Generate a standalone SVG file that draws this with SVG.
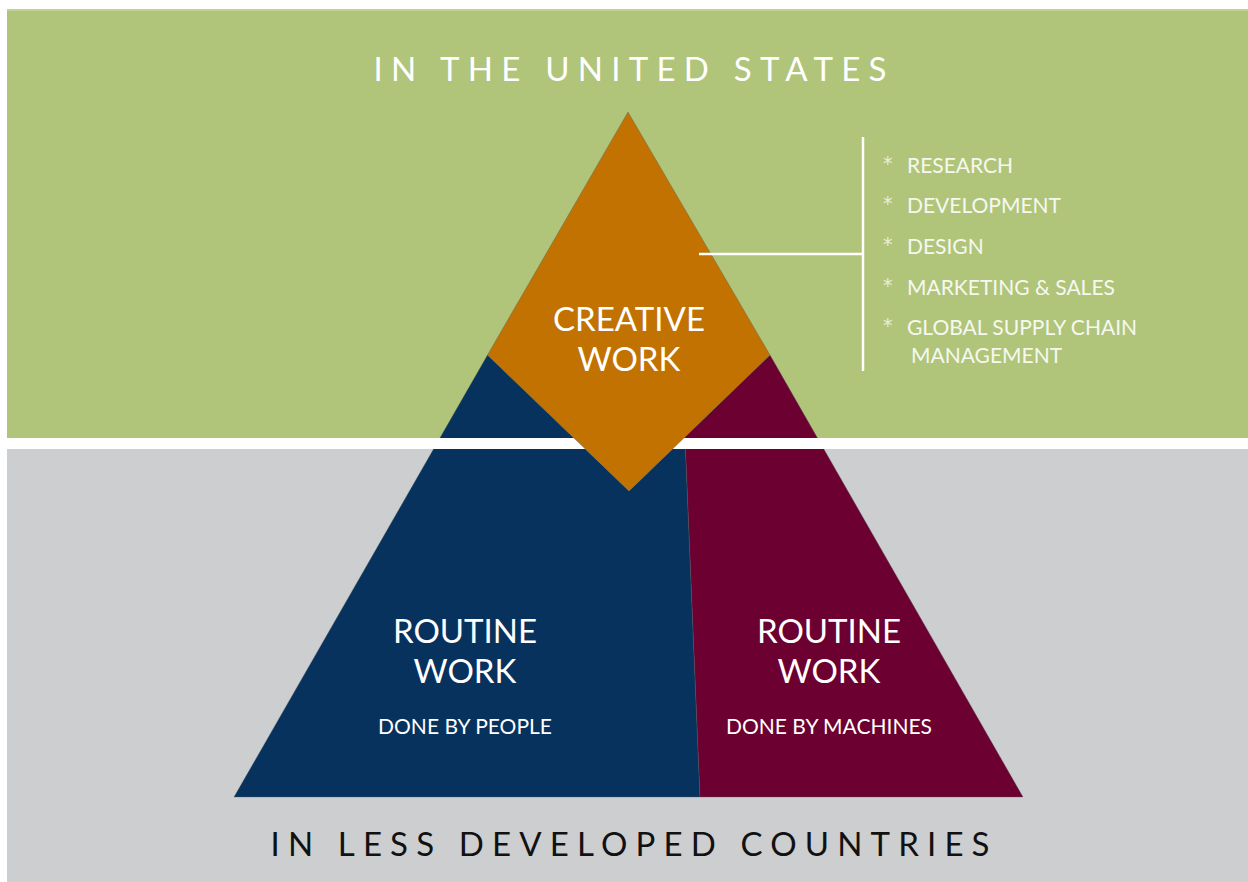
<svg xmlns="http://www.w3.org/2000/svg" width="1248" height="882" viewBox="0 0 1248 882">
<style>
.t{font-family:Lato,"Open Sans","Liberation Sans",sans-serif;fill:#ffffff}
.big{font-size:33px;text-anchor:middle}
.small{font-size:21px;text-anchor:middle}
.item{font-size:21px;fill:#f6f8f0}
.ast{font-family:"DejaVu Sans","Liberation Sans",sans-serif;font-size:19px;fill:#e8eedb}
.title{font-size:33px;text-anchor:middle}
.conn{stroke:#ffffff;stroke-width:2.5;fill:none}
.edge{stroke:#4f5f66;stroke-width:0.6;stroke-opacity:0.6}
</style>
<rect width="1248" height="882" fill="#ffffff"/>
<g id="bands">
<rect x="7" y="9" width="1241" height="429" fill="#b0c57a"/>
<rect x="7" y="9" width="1241" height="2" fill="#c0d38e"/>
<rect x="7" y="449" width="1241" height="433" fill="#cdcecf"/>
</g>
<g id="routine-people">
<polygon class="edge" points="487.5,355 629,491 685,437 700,797 234,797" fill="#06325d"/>
</g>
<g id="routine-machines">
<polygon class="edge" points="685,437 770,355 1023,797 700,797" fill="#6c0031"/>
</g>
<g id="band-separator">
<rect x="7" y="438" width="1241" height="11" fill="#ffffff"/>
</g>
<g id="creative-work">
<polygon class="edge" points="628,112 770,355 629,491 487.5,355" fill="#c17200"/>
<text class="t big" x="629" y="331">CREATIVE</text>
<text class="t big" x="629" y="371">WORK</text>
</g>
<g id="routine-people-label">
<text class="t big" x="465" y="643">ROUTINE</text>
<text class="t big" x="465" y="683">WORK</text>
<text class="t small" x="465" y="734">DONE BY PEOPLE</text>
</g>
<g id="routine-machines-label">
<text class="t big" x="829" y="643">ROUTINE</text>
<text class="t big" x="829" y="683">WORK</text>
<text class="t small" x="829" y="734">DONE BY MACHINES</text>
</g>
<g id="connectors">
<line class="conn" x1="699" y1="254" x2="864" y2="254"/>
<line class="conn" x1="863" y1="137" x2="863" y2="371"/>
</g>
<g id="creative-list">
<text class="t ast" x="883" y="170">*</text>
<text class="t item" x="907" y="173">RESEARCH</text>
<text class="t ast" x="883" y="210">*</text>
<text class="t item" x="907" y="213">DEVELOPMENT</text>
<text class="t ast" x="883" y="251">*</text>
<text class="t item" x="907" y="254">DESIGN</text>
<text class="t ast" x="883" y="292">*</text>
<text class="t item" x="907" y="295">MARKETING &amp; SALES</text>
<text class="t ast" x="883" y="332">*</text>
<text class="t item" x="907" y="335">GLOBAL SUPPLY CHAIN</text>
<text class="t item" x="911" y="363">MANAGEMENT</text>
</g>
<g id="titles">
<text class="t title" x="630" y="81" textLength="513" lengthAdjust="spacing">IN THE UNITED STATES</text>
<text class="t title" x="630" y="856" style="fill:#111111" textLength="719" lengthAdjust="spacing">IN LESS DEVELOPED COUNTRIES</text>
</g>
</svg>
